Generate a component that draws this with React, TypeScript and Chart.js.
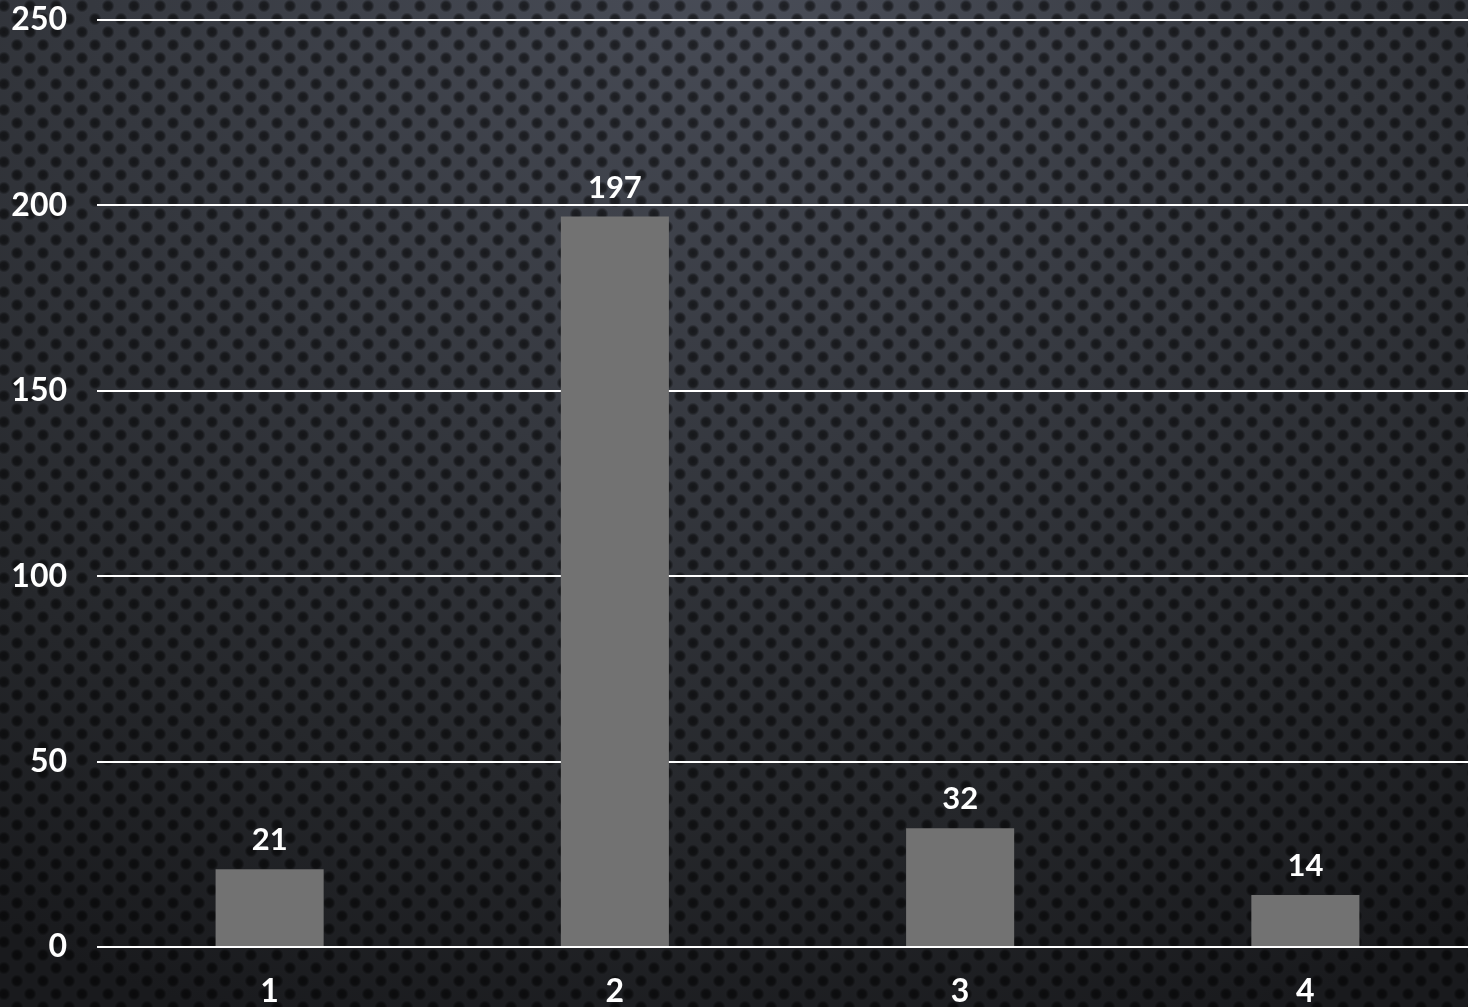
import React, { useEffect, useRef } from "react";
import { Chart, registerables } from "chart.js";

Chart.register(...registerables);

const categories = ["1", "2", "3", "4"];
const values = [21, 197, 32, 14];
const yTicks = [0, 50, 100, 150, 200, 250];

const FONT = "Lato, 'Open Sans', sans-serif";

function makeDotTile(): HTMLCanvasElement {
  const p = 26;
  const tile = document.createElement("canvas");
  tile.width = p;
  tile.height = p;
  const c = tile.getContext("2d")!;
  const drawDot = (x: number, y: number) => {
    const g = c.createRadialGradient(x, y, 0, x, y, 6.5);
    g.addColorStop(0, "rgba(0,0,0,0.6)");
    g.addColorStop(0.6, "rgba(0,0,0,0.5)");
    g.addColorStop(1, "rgba(0,0,0,0)");
    c.fillStyle = g;
    c.beginPath();
    c.arc(x, y, 6.5, 0, Math.PI * 2);
    c.fill();
  };
  for (const [x, y] of [
    [0, 0],
    [p, 0],
    [0, p],
    [p, p],
    [p / 2, p / 2],
  ]) {
    drawDot(x, y);
  }
  return tile;
}

const bgPlugin = {
  id: "bgTexture",
  beforeDraw(chart: any) {
    const { ctx, width, height } = chart;
    ctx.save();
    ctx.translate(734, -60);
    ctx.scale(1.25, 1);
    const g = ctx.createRadialGradient(0, 0, 0, 0, 0, 1150);
    g.addColorStop(0, "#4a4e59");
    g.addColorStop(0.45, "#35383f");
    g.addColorStop(0.75, "#26282c");
    g.addColorStop(1, "#191a1d");
    ctx.fillStyle = g;
    ctx.fillRect(-800, -100, 2000, 1300);
    ctx.restore();
    ctx.save();
    const pat = ctx.createPattern(makeDotTile(), "repeat");
    if (pat) {
      ctx.fillStyle = pat;
      ctx.translate(4, 6);
      ctx.fillRect(-4, -6, width, height);
    }
    ctx.restore();
  },
};

const labelPlugin = {
  id: "valueLabels",
  afterDatasetsDraw(chart: any) {
    const { ctx } = chart;
    const meta = chart.getDatasetMeta(0);
    ctx.save();
    ctx.fillStyle = "#ffffff";
    ctx.font = `bold 31px ${FONT}`;
    ctx.textAlign = "center";
    ctx.textBaseline = "alphabetic";
    meta.data.forEach((bar: any, i: number) => {
      ctx.fillText(String(values[i]), bar.x, bar.y - 19);
    });
    ctx.restore();
  },
};

export default function App() {
  const ref = useRef<HTMLCanvasElement | null>(null);
  useEffect(() => {
    if (!ref.current) return;
    const chart = new Chart(ref.current, {
      type: "bar",
      data: {
        labels: categories,
        datasets: [
          {
            data: values,
            backgroundColor: "#727272",
            borderWidth: 0,
            barPercentage: 1,
            categoryPercentage: 0.313,
          },
        ],
      },
      options: {
        responsive: false,
        animation: false,
        devicePixelRatio: 1,
        layout: { padding: { top: 20, right: 0, left: 0, bottom: 0 } },
        plugins: { legend: { display: false }, tooltip: { enabled: false } },
        scales: {
          x: {
            grid: { display: false, drawTicks: false },
            border: { display: false },
            ticks: {
              color: "#ffffff",
              font: { family: FONT, size: 32, weight: "bold" },
              padding: 25,
            },
            afterFit(scale: any) {
              scale.height = 60;
              scale.paddingLeft = 0;
              scale.paddingRight = 0;
            },
          },
          y: {
            min: 0,
            max: 250,
            afterBuildTicks(scale: any) {
              scale.ticks = yTicks.map((v) => ({ value: v }));
            },
            grid: { color: "#ffffff", lineWidth: 2, drawTicks: false },
            border: { display: false },
            ticks: {
              color: "#ffffff",
              font: { family: FONT, size: 32, weight: "bold" },
              padding: 30,
            },
            afterFit(scale: any) {
              scale.width = 97;
              scale.paddingTop = 0;
              scale.paddingBottom = 0;
            },
          },
        },
      },
      plugins: [bgPlugin, labelPlugin],
    });
    return () => chart.destroy();
  }, []);
  return (
    <div
      style={{
        position: "fixed",
        left: 0,
        top: 0,
        width: 1468,
        height: 1007,
        overflow: "hidden",
        background: "#1c1d20",
      }}
    >
      <canvas ref={ref} width={1478} height={1007} style={{ display: "block" }} />
    </div>
  );
}
